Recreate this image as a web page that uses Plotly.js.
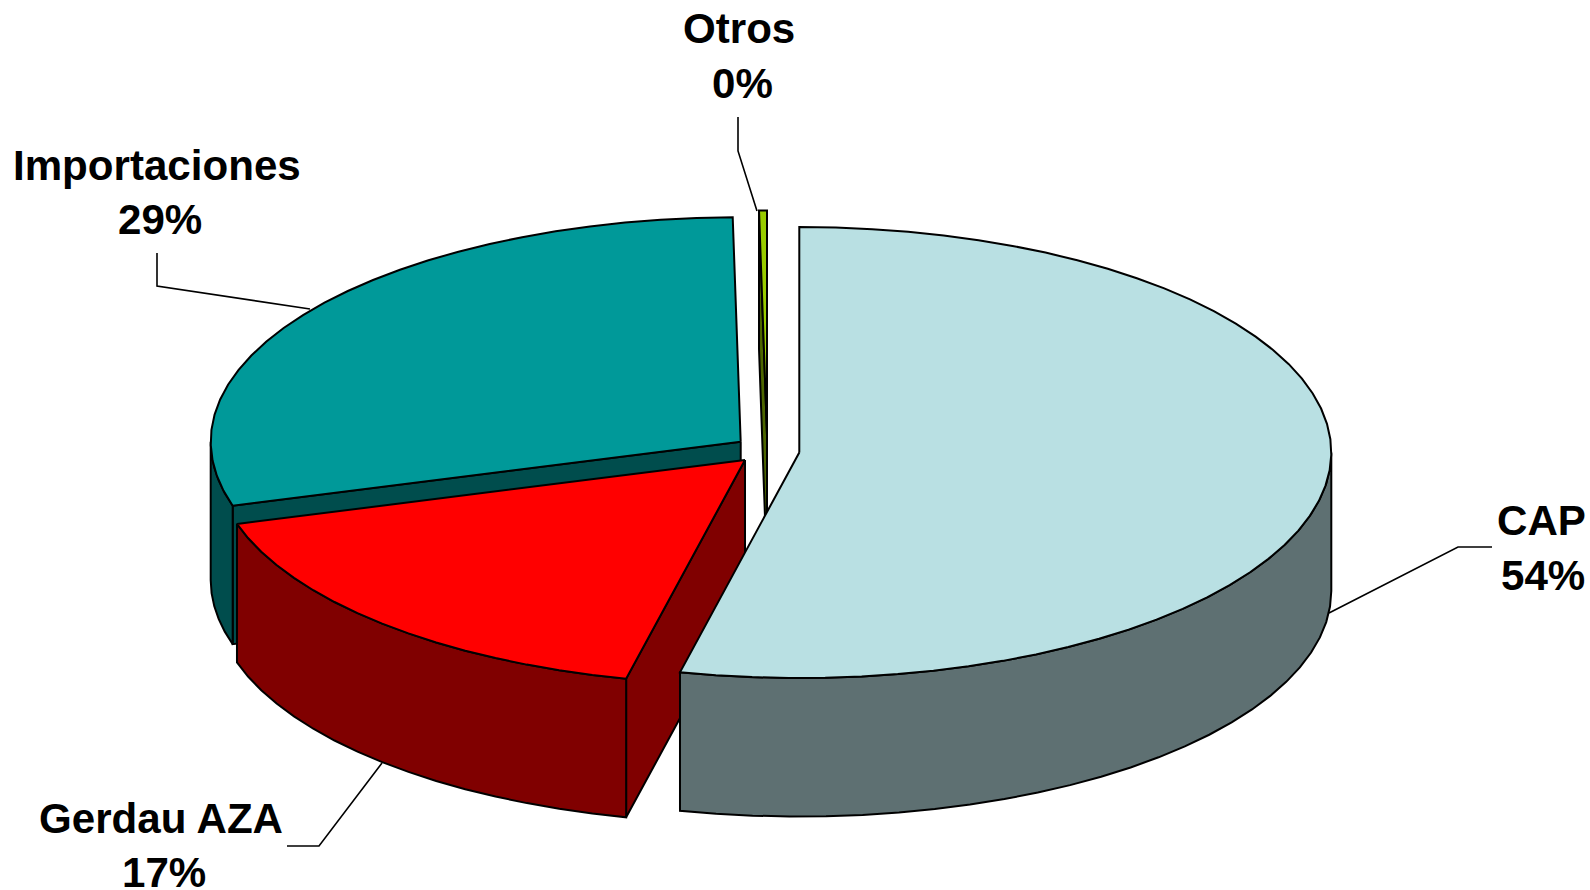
<!DOCTYPE html>
<html>
<head>
<meta charset="utf-8">
<script src="https://cdn.plot.ly/plotly-3.0.1.min.js"></script>
<style>html,body{margin:0;padding:0;background:#fff}#chart{width:1590px;height:890px}</style>
</head>
<body>
<div id="chart"></div>
<script>
// Data, clockwise from 12 o'clock
const categories = ["CAP", "Gerdau AZA", "Importaciones", "Otros"];
const shares = [53.6, 16.8, 29.36, 0.24];

// Styles
const topColors = ["#B9E0E3", "#FF0000", "#009999", "#99CC00"];
const sideColors = ["#5E7072", "#800000", "#004D4D", "#4D6600"];

// 3D pie geometry (pixels)
const centerX = [799.3, 745, 740.7, 767];
const centerY = [452.5, 460, 441.7, 435];
const radiusX = [532, 530, 530, 530];
const radiusY = [225.5, 224.5, 224.5, 224.5];
const depth = 138.5, arcStep = 4;
const FONT = {family: '"Liberation Sans", Arial, sans-serif', size: 42.1, color: "#000"};
const LABEL_SHIFT = 14.5;

// Label placement (x centre, baseline y) for name and percent rows
const nameX = [1541, 161, 157, 738.5], nameBase = [535, 833, 180, 43];
const pctX = [1543, 164, 160, 742], pctBase = [590, 887, 233.5, 98];

// Leader lines
const leaders = [
  [[1492, 1458, 1329], [547, 547, 613]],
  [[287, 319, 382], [846, 846, 763]],
  [[157, 157, 310], [253, 286, 309]],
  [[738, 738, 757], [117, 151, 211]]
];

const total = shares.reduce((a, b) => a + b, 0);
let running = 0;
const starts = [], ends = [];
shares.forEach(v => { starts.push(running / total * 360); running += v; ends.push(running / total * 360); });

const pt = (i, deg, dz = 0) => {
  const r = deg * Math.PI / 180;
  return [centerX[i] + radiusX[i] * Math.sin(r), centerY[i] - radiusY[i] * Math.cos(r) + dz];
};
const arc = (i, a, b, dz = 0) => {
  const out = [];
  const n = Math.max(1, Math.ceil(Math.abs(b - a) / arcStep));
  for (let k = 0; k <= n; k++) out.push(pt(i, a + (b - a) * k / n, dz));
  return out;
};
const poly = (points, fill) => ({
  type: "scatter", mode: "lines", fill: "toself", fillcolor: fill,
  x: points.map(p => p[0]).concat([points[0][0]]),
  y: points.map(p => p[1]).concat([points[0][1]]),
  line: {color: "#000", width: 2, shape: "linear"},
  hoverinfo: "skip", showlegend: false
});

function sliceTraces(i) {
  const t = [];
  const a = starts[i], b = ends[i];
  const apex = [centerX[i], centerY[i]];
  const apexLow = [centerX[i], centerY[i] + depth];
  // Cut face at start angle, visible when it turns toward the viewer
  if (a > 180 && a < 360) t.push(poly([apex, pt(i, a), pt(i, a, depth), apexLow], sideColors[i]));
  // Cut face at end angle
  if (b > 0 && b < 180 + 20 && i !== 0) t.push(poly([apex, pt(i, b), pt(i, b, depth), apexLow], sideColors[i]));
  // Outer rim, front half only
  const lo = Math.max(a, 90), hi = Math.min(b, 270);
  if (hi > lo) t.push(poly(arc(i, lo, hi).concat(arc(i, hi, lo, depth)), sideColors[i]));
  // Top
  t.push(poly([apex].concat(arc(i, a, b)), topColors[i]));
  return t;
}

// Paint back to front
const traces = [];
[2, 3, 1, 0].forEach(i => traces.push(...sliceTraces(i)));

leaders.forEach(l => traces.push({
  type: "scatter", mode: "lines", x: l[0], y: l[1],
  line: {color: "#000", width: 1.6}, hoverinfo: "skip", showlegend: false
}));

const annotations = [];
categories.forEach((c, i) => {
  annotations.push({x: nameX[i], y: nameBase[i] - LABEL_SHIFT, text: "<b>" + c + "</b>", showarrow: false, font: FONT, xanchor: "center", yanchor: "middle"});
  annotations.push({x: pctX[i], y: pctBase[i] - LABEL_SHIFT, text: "<b>" + Math.round(shares[i]) + "%</b>", showarrow: false, font: FONT, xanchor: "center", yanchor: "middle"});
});

const hidden = {visible: false, fixedrange: true};
Plotly.newPlot("chart", traces, {
  width: 1590, height: 890,
  margin: {l: 0, r: 0, t: 0, b: 0},
  paper_bgcolor: "#fff", plot_bgcolor: "#fff",
  xaxis: Object.assign({range: [0, 1590]}, hidden),
  yaxis: Object.assign({range: [890, 0]}, hidden),
  annotations: annotations,
  showlegend: false
}, {displayModeBar: false, staticPlot: true});
</script>
</body>
</html>
